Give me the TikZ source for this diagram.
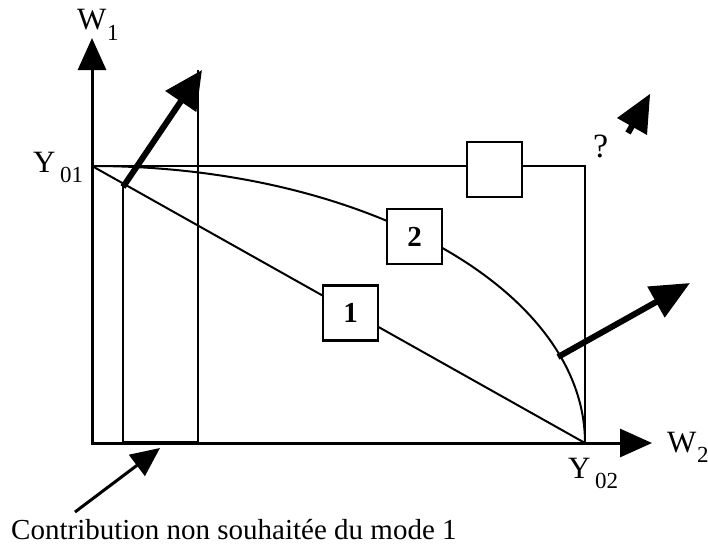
\documentclass[tikz,border=0pt]{standalone}
\usepackage{fontspec}
\setmainfont{Liberation Serif}
\usetikzlibrary{arrows.meta}
\begin{document}
\begin{tikzpicture}[x=1pt,y=-1pt,
  axis/.style={line width=3pt,-{Triangle[length=32pt,width=28pt]}},
  frame/.style={line width=2.5pt},
  thinline/.style={line width=2pt},
  numbox/.style={draw,line width=2.5pt,fill=white,minimum width=55pt,minimum height=55pt,inner sep=0pt,font=\fontsize{29}{29}\selectfont\bfseries},
  lbl/.style={anchor=base west,inner sep=0pt,font=\fontsize{31}{31}\selectfont},
  sublbl/.style={anchor=base west,inner sep=0pt,font=\fontsize{23}{23}\selectfont},
  bigarrow/.style={line width=6pt}
]
\useasboundingbox (0,0) rectangle (708,546);
% key points
\coordinate (O) at (92,445);
\coordinate (Oh) at (92,443);
\coordinate (Y01) at (92,166);
\coordinate (Y02) at (585,443);
\coordinate (TR) at (585,166);
\coordinate (W1tip) at (92,38);
\coordinate (W2tip) at (652,443);
% axes
\draw[axis] (O) -- (W1tip);
\draw[axis] (Oh) -- (W2tip);
% frame
\draw[frame] (Y01) -- (TR) -- (Y02);
% line 1
\draw[thinline] (Y01) -- (Y02);
% curve 2 (quarter ellipse)
\draw[thinline] (Y01) .. controls (364,166) and (585,289.5) .. (Y02);
% narrow rectangle
\coordinate (RL) at (123,183);
\coordinate (RLb) at (123,443);
\coordinate (RR) at (198,70);
\coordinate (RRb) at (198,443);
\draw[frame] (RL) -- (RLb);
\draw[frame] (RR) -- (RRb);
\draw[line width=4.5pt] (RLb) -- (RRb);
% thick arrows
\coordinate (A1s) at (123,187);
\coordinate (A1e) at (202,70);
\draw[bigarrow,-{Triangle[length=38pt,width=36pt]}] (A1s) -- (A1e);
\coordinate (A2s) at (558,357);
\coordinate (A2e) at (690,283);
\draw[bigarrow,-{Triangle[length=39pt,width=34pt]}] (A2s) -- (A2e);
% top-right arrowhead
\coordinate (A3s) at (628,133);
\coordinate (A3m) at (632,126);
\draw[line width=6pt] (A3s) -- (A3m);
\fill (650,94) -- (617,118) -- (647,135) -- cycle;
% bottom pointer
\coordinate (Ps) at (75,512);
\coordinate (Pe) at (160,448);
\draw[line width=3pt,-{Triangle[length=29pt,width=26pt]}] (Ps) -- (Pe);
% boxes
\node[numbox] (b0) at (494.5,169.5) {};
\node[numbox] (b1) at (350.5,313) {1};
\node[numbox] (b2) at (414.5,236.5) {2};
% labels
\node[lbl] (w1) at (77,29) {W};
\node[sublbl] (w1s) at (107,40) {1};
\node[lbl] (w2) at (667,452) {W};
\node[sublbl] (w2s) at (697,462) {2};
\node[lbl] (y01) at (33,172) {Y};
\node[sublbl] (y01s) at (60,182) {01};
\node[lbl] (y02) at (568,478) {Y};
\node[sublbl] (y02s) at (595,488) {02};
\node[anchor=base west,inner sep=0pt,font=\fontsize{34}{34}\selectfont] (q) at (593,157) {?};
\node[anchor=base west,inner sep=0pt,font=\fontsize{29}{30}\selectfont] (txt) at (11,539) {Contribution non souhaitée du mode 1};
\end{tikzpicture}
\end{document}
